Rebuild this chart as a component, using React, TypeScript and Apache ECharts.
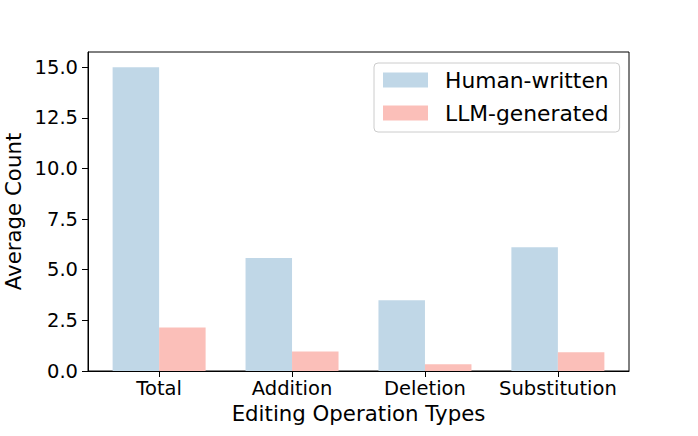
import React, { useEffect, useRef } from "react";
import * as echarts from "echarts";

const categories = ["Total", "Addition", "Deletion", "Substitution"];
const humanValues = [15.0, 5.58, 3.49, 6.11];
const llmValues = [2.15, 0.96, 0.33, 0.93];
const yTicks = [0, 2.5, 5, 7.5, 10, 12.5, 15];
const seriesNames = ["Human-written", "LLM-generated"];

const FONT = "DejaVu Sans";

export default function App() {
  const ref = useRef<HTMLDivElement>(null);
  useEffect(() => {
    if (!ref.current) return;
    const chart = echarts.init(ref.current, undefined, { renderer: "svg" });
    const xTicks = categories.map((_, i) => i);
    chart.setOption({
      animation: false,
      backgroundColor: "#fff",
      grid: {
        left: 88,
        right: 69,
        top: 52,
        bottom: 65,
        show: true,
        borderColor: "#000",
        borderWidth: 1,
        backgroundColor: "transparent",
        containLabel: false,
        outerBoundsMode: "none",
      },
      legend: {
        orient: "vertical",
        left: 374,
        top: 63,
        padding: [6, 11, 8, 9],
        itemWidth: 45,
        itemHeight: 15,
        itemGap: 11,
        icon: "rect",
        backgroundColor: "rgba(255,255,255,0.8)",
        borderColor: "#cccccc",
        borderWidth: 1,
        borderRadius: 4,
        textStyle: {
          fontFamily: FONT,
          fontSize: 21.8,
          color: "#000",
          lineHeight: 22,
          padding: [0, 0, 0, 12],
        },
        data: seriesNames,
      },
      xAxis: {
        type: "value",
        min: -0.535,
        max: 3.535,
        splitLine: { show: false },
        axisLine: { show: true, onZero: false, lineStyle: { color: "#000", width: 1 } },
        axisTick: {
          show: true,
          length: 6,
          customValues: xTicks,
          lineStyle: { color: "#000" },
        },
        axisLabel: {
          customValues: xTicks,
          formatter: (v: number) => categories[Math.round(v)] ?? "",
          fontFamily: FONT,
          fontSize: 19.5,
          color: "#000",
          margin: 7,
        },
        name: "Editing Operation Types",
        nameLocation: "middle",
        nameGap: 32,
        nameTextStyle: { fontFamily: FONT, fontSize: 21.3, color: "#000" },
      },
      yAxis: {
        type: "value",
        min: 0,
        max: 15.75,
        splitLine: { show: false },
        axisLine: { show: true, onZero: false, lineStyle: { color: "#000", width: 1 } },
        axisTick: {
          show: true,
          length: 6,
          customValues: yTicks,
          lineStyle: { color: "#000" },
        },
        axisLabel: {
          customValues: yTicks,
          formatter: (v: number) => v.toFixed(1),
          fontFamily: FONT,
          fontSize: 19.5,
          color: "#000",
          margin: 10,
        },
        name: "Average Count",
        nameLocation: "middle",
        nameGap: 62,
        nameTextStyle: { fontFamily: FONT, fontSize: 21.3, color: "#000" },
      },
      series: [
        {
          name: seriesNames[0],
          type: "bar",
          barWidth: 46.5,
          barGap: "0%",
          itemStyle: { color: "#c0d7e7" },
          data: humanValues.map((v, i) => [i, v]),
        },
        {
          name: seriesNames[1],
          type: "bar",
          barWidth: 46.5,
          barGap: "0%",
          itemStyle: { color: "#fbbfb9" },
          data: llmValues.map((v, i) => [i, v]),
        },
      ],
    });
    return () => chart.dispose();
  }, []);
  return <div ref={ref} style={{ width: 698, height: 436, position: "absolute", left: 0, top: 0 }} />;
}
